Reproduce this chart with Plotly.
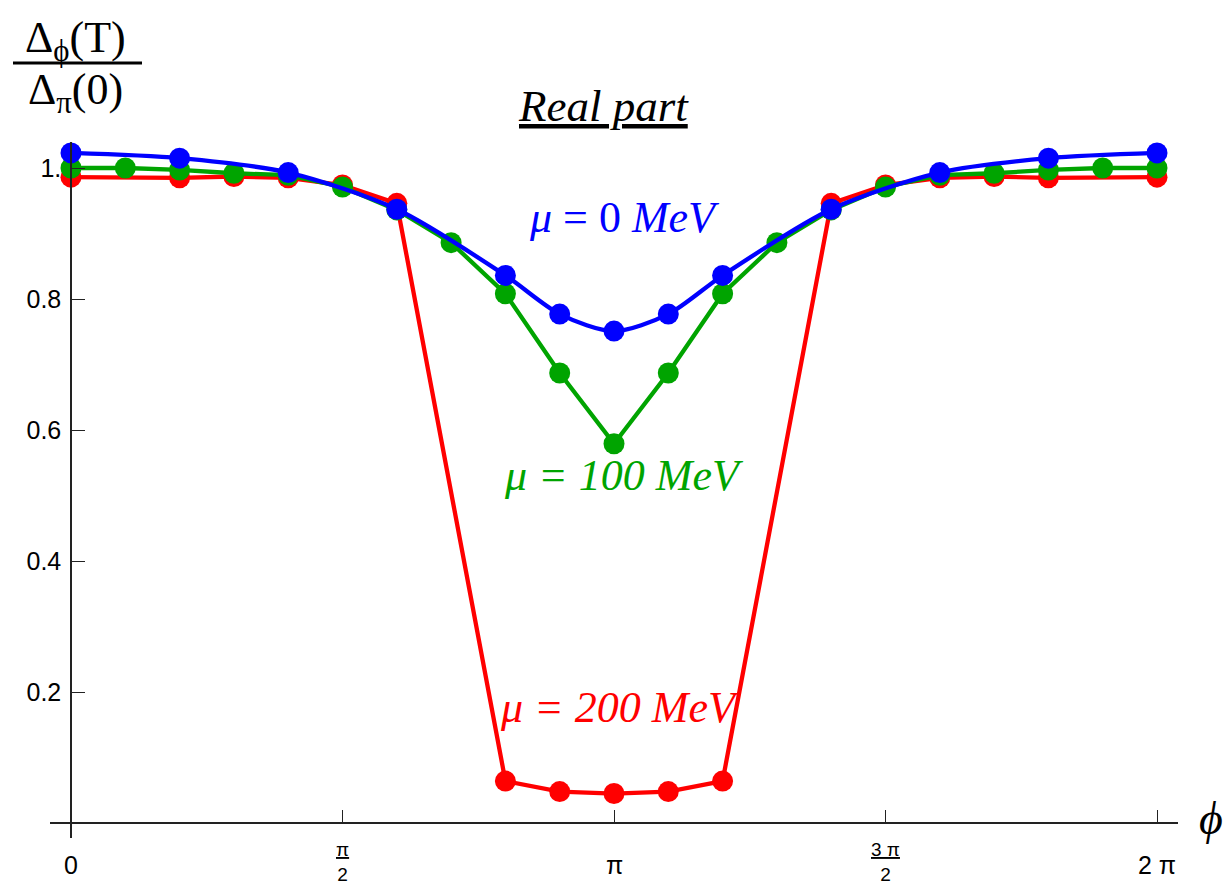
import numpy as np
import plotly.graph_objects as go

PI = np.pi

# phi values in units of pi
phi_mu0 = [0, 0.2, 0.4, 0.6, 0.8, 0.9, 1.0, 1.1, 1.2, 1.4, 1.6, 1.8, 2.0]
gap_mu0 = [1.023, 1.015, 0.993, 0.937, 0.836, 0.777, 0.751, 0.777, 0.836, 0.937, 0.993, 1.015, 1.023]

phi_mu100 = [0, 0.1, 0.2, 0.3, 0.4, 0.5, 0.6, 0.7, 0.8, 0.9, 1.0,
             1.1, 1.2, 1.3, 1.4, 1.5, 1.6, 1.7, 1.8, 1.9, 2.0]
gap_mu100 = [1.000, 1.000, 0.997, 0.992, 0.989, 0.971, 0.936, 0.886, 0.808, 0.687, 0.579,
             0.687, 0.808, 0.886, 0.936, 0.971, 0.989, 0.992, 0.997, 1.000, 1.000]

phi_mu200 = [0, 0.2, 0.3, 0.4, 0.5, 0.6, 0.8, 0.9, 1.0, 1.1, 1.2, 1.4, 1.5, 1.6, 1.7, 1.8, 2.0]
gap_mu200 = [0.986, 0.985, 0.987, 0.985, 0.974, 0.946, 0.064, 0.048, 0.045, 0.048, 0.064,
             0.946, 0.974, 0.985, 0.987, 0.985, 0.986]

x_tickvals = [0, 0.5, 1.0, 1.5, 2.0]  # in units of pi
x_ticklabels = ["0", "<u>π</u><br>2", "π", "<u>3 π</u><br>2", "2 π"]
y_tickvals = [0.2, 0.4, 0.6, 0.8, 1.0]
y_ticklabels = ["0.2", "0.4", "0.6", "0.8", "1."]

series = [
    ("μ = 200 MeV", phi_mu200, gap_mu200, "rgb(255,0,0)", "linear"),
    ("μ = 100 MeV", phi_mu100, gap_mu100, "rgb(0,164,0)", "linear"),
    ("μ = 0 MeV", phi_mu0, gap_mu0, "rgb(0,0,255)", "spline"),
]

W, H = 1225, 886
ML, MR, MT, MB = 50, 47, 142, 48
XMIN, XMAX = -0.1215, 2 * PI + 0.1215
YMIN, YMAX = -0.0229, 1.0397


def px(xp, yp):
    """Pixel position -> paper coordinates."""
    return ((xp - ML) / (W - ML - MR), (H - MB - yp) / (H - MT - MB))


fig = go.Figure()
for name, xs, ys, col, shape in series:
    fig.add_trace(go.Scatter(
        x=[v * PI for v in xs], y=ys, mode="lines+markers", name=name,
        line=dict(color=col, width=4.3, shape=shape, smoothing=0.8),
        marker=dict(color=col, size=21),
        cliponaxis=False, showlegend=False,
    ))

fig.update_layout(
    width=W, height=H,
    margin=dict(l=ML, r=MR, t=MT, b=MB),
    paper_bgcolor="white", plot_bgcolor="white",
    xaxis=dict(
        range=[XMIN, XMAX], showgrid=False, zeroline=False,
        showline=True, linecolor="#222", linewidth=1.5,
        anchor="free", position=(0 - YMIN) / (YMAX - YMIN),
        ticks="inside", ticklen=12, tickwidth=1.3, tickcolor="#222",
        tickvals=[v * PI for v in x_tickvals], showticklabels=False,
    ),
    yaxis=dict(
        range=[YMIN, YMAX], showgrid=False, zeroline=False,
        showline=True, linecolor="#222", linewidth=1.5,
        anchor="free", position=(0 - XMIN) / (XMAX - XMIN),
        ticks="inside", ticklen=13, tickwidth=1.3, tickcolor="#222",
        tickvals=y_tickvals, ticktext=y_ticklabels,
        tickfont=dict(family="Liberation Sans", size=25, color="black"),
        ticklabelstandoff=4,
    ),
)

# x tick labels (stacked fractions for pi/2 and 3pi/2)
for v, lab in zip(x_tickvals, x_ticklabels):
    frac = "<br>" in lab
    fig.add_annotation(
        x=v * PI, y=0, xref="x", yref="y", text=lab, showarrow=False,
        yanchor="middle", xanchor="center",
        yshift=-39 if frac else -42,
        font=dict(family="Liberation Sans", size=19 if frac else 25, color="black"),
    )


def paper_text(xp, yp, text, size, color="black"):
    ax, ay = px(xp, yp)
    fig.add_annotation(x=ax, y=ay, xref="paper", yref="paper", showarrow=False,
                       xanchor="center", yanchor="middle", text=text,
                       font=dict(family="Liberation Serif", size=size, color=color))


# axis label phi
paper_text(1211, 818, "<i>ϕ</i>", 46)

# y label as a fraction
paper_text(75, 41, "Δ<sub>ϕ</sub>(T)", 44)
paper_text(75, 93, "Δ<sub>π</sub>(0)", 44)
l0x, ly = px(13, 63)
l1x, _ = px(142, 63)
fig.add_shape(type="line", xref="paper", yref="paper", x0=l0x, x1=l1x, y0=ly, y1=ly,
              line=dict(color="black", width=3))

# panel title
paper_text(603, 106, "<i><u>Real part</u></i>", 45)

# curve labels
labels = [
    ("<i>μ</i> = 0 <i>MeV</i>", 3.205, 0.924, "rgb(0,0,255)"),
    ("<i>μ = 100 MeV</i>", 3.200, 0.530, "rgb(0,164,0)"),
    ("<i>μ = 200 MeV</i>", 3.175, 0.177, "rgb(255,0,0)"),
]
for text, lx, ly_, col in labels:
    fig.add_annotation(x=lx, y=ly_, xref="x", yref="y", text=text, showarrow=False,
                       xanchor="center", yanchor="middle",
                       font=dict(family="Liberation Serif", size=44, color=col))

fig.write_html("out.html")
